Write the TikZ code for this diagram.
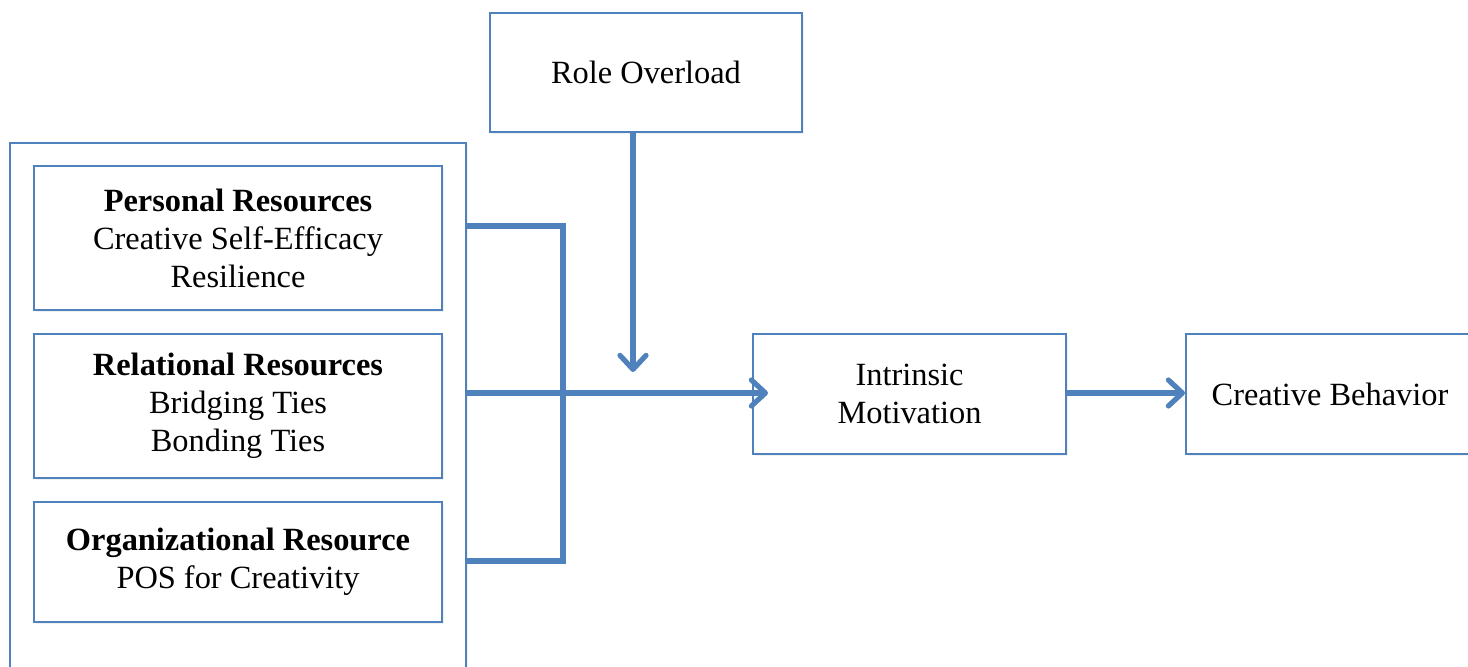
\documentclass[tikz,border=0pt]{standalone}
\usepackage{fontspec}
\setmainfont{Liberation Serif}
\usetikzlibrary{positioning,shadows,arrows.meta}
\definecolor{boxblue}{RGB}{79,129,189}
\tikzset{
  box/.style={draw=boxblue, line width=1pt, fill=white, align=center, inner sep=0pt,
    font=\fontsize{16.2}{19}\selectfont,
    drop shadow={opacity=0.12, shadow xshift=1.2pt, shadow yshift=-1.2pt}},
  link/.style={draw=boxblue, line width=2.6pt},
  flow/.style={link, -{Straight Barb[length=7pt,width=13pt,round]}}
}

\begin{document}
\begin{tikzpicture}[x=0.5pt,y=-0.5pt]
  \useasboundingbox (0,0) rectangle (1468,667);
  % resources block
  \node[box,minimum width=228pt,minimum height=277pt] (res) at (238,420) {};
  \node[box,minimum width=204pt,minimum height=72pt] (pers) at (238,238)
    {\textbf{Personal Resources}\\Creative Self-Efficacy\\Resilience};
  \node[box,minimum width=204pt,minimum height=72pt] (rel) [below=11pt of pers]
    {\textbf{Relational Resources}\\Bridging Ties\\Bonding Ties};
  \node[box,minimum width=204pt,minimum height=60pt] (org) [below=11pt of rel]
    {\textbf{Organizational Resource}\\POS for Creativity};
  % right side
  \node[box,minimum width=156pt,minimum height=59.5pt] (ro) at (646,72.5) {Role Overload};
  \node[box,minimum width=156.5pt,minimum height=60pt] (im) at (909.5,394) {Intrinsic\\Motivation};
  \node[box,minimum width=144pt,minimum height=60pt] (cb) [right=59pt of im] {Creative Behavior};
  % joints
  \coordinate (tp) at (563,226);
  \coordinate (mid) at (563,393);
  \coordinate (bt) at (563,561);
  \coordinate (roend) at (633,372);
  \draw[link] (res.east |- tp) -- (tp) -- (bt) -- (res.east |- bt);
  \draw[link] (res.east |- mid) -- (mid);
  \draw[flow,shorten >=-8pt] (mid) -- (mid -| im.west);
  \draw[flow] (roend |- ro.south) -- (roend);
  \draw[flow] (im.east |- mid) -- (cb.west |- mid);
\end{tikzpicture}
\end{document}
